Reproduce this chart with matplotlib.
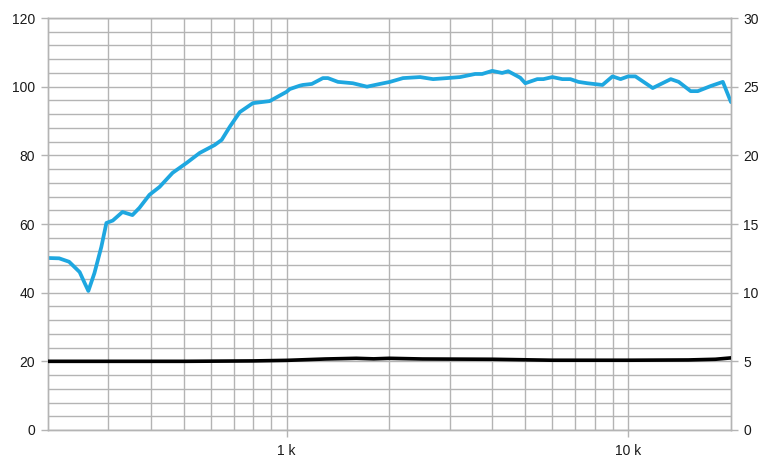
import matplotlib
matplotlib.use("Agg")
import matplotlib.pyplot as plt
from matplotlib.ticker import FixedLocator, NullFormatter

plt.rcParams['font.family'] = ['Liberation Sans', 'DejaVu Sans']

# 주파수 응답 (왼쪽 축, 0-120)
spl_freq = [200, 216, 231, 248, 256, 263, 274, 287, 297, 310, 331, 354, 371, 397,
            425, 464, 510, 557, 616, 646, 682, 730, 797, 893, 1000, 1022, 1094,
            1116, 1186, 1278, 1322, 1414, 1564, 1720, 1877, 2009, 2193, 2460,
            2685, 2951, 3221, 3565, 3738, 4000, 4277, 4457, 4833, 5000, 5420,
            5649, 6000, 6417, 6775, 7150, 7600, 8410, 9000, 9500, 10000, 10500,
            11800, 13330, 14060, 15240, 15990, 17460, 18930, 20000]
spl_val = [50.1, 50.0, 49.0, 46.0, 43.0, 40.5, 45.7, 53.3, 60.3, 61.0, 63.5, 62.6,
           64.7, 68.5, 70.8, 74.9, 77.8, 80.7, 83.0, 84.5, 88.3, 92.6, 95.2, 95.8,
           98.5, 99.3, 100.3, 100.5, 100.8, 102.5, 102.5, 101.4, 101.0, 100.0,
           100.8, 101.4, 102.5, 102.8, 102.2, 102.5, 102.8, 103.7, 103.7, 104.6,
           104.0, 104.5, 102.6, 101.0, 102.2, 102.2, 102.8, 102.2, 102.2, 101.4,
           101.0, 100.5, 103.0, 102.2, 103.0, 103.0, 99.6, 102.2, 101.4, 98.7,
           98.7, 100.2, 101.4, 95.5]

# 임피던스 (오른쪽 축, 0-30)
imp_freq = [200, 500, 800, 1000, 1300, 1600, 1800, 2000, 2500, 4000, 6000,
            10000, 15000, 18000, 20000]
imp_val = [5.0, 5.0, 5.03, 5.07, 5.17, 5.22, 5.18, 5.22, 5.17, 5.15, 5.08,
           5.08, 5.1, 5.15, 5.25]

left_ticks = [0, 20, 40, 60, 80, 100, 120]
right_ticks = [0, 5, 10, 15, 20, 25, 30]
x_ticks = [1000, 10000]
x_labels = ['1 k', '10 k']

grid_c = '#b4b4b4'

fig = plt.figure(figsize=(7.76, 4.62), dpi=100)
ax = fig.add_axes([0.0615, 0.0693, 0.8805, 0.8917])
ax2 = ax.twinx()

ax.set_xscale('log')
ax.set_xlim(200, 20000)
ax.set_ylim(0, 120)
ax2.set_ylim(0, 30)

# 그리드
ax.xaxis.set_major_locator(FixedLocator(x_ticks))
ax.xaxis.set_minor_locator(FixedLocator(
    [300, 400, 500, 600, 700, 800, 900, 2000, 3000, 4000, 5000, 6000, 7000,
     8000, 9000]))
ax.xaxis.set_minor_formatter(NullFormatter())
ax.set_xticklabels(x_labels)
ax.yaxis.set_major_locator(FixedLocator(left_ticks))
ax.yaxis.set_minor_locator(FixedLocator(range(0, 121, 4)))
ax2.yaxis.set_major_locator(FixedLocator(right_ticks))
ax2.yaxis.set_minor_locator(FixedLocator([]))

ax.grid(True, which='both', color=grid_c, linewidth=1.0)
ax.set_axisbelow(True)

for a in (ax, ax2):
    for s in a.spines.values():
        s.set_color(grid_c)
        s.set_linewidth(1.0)

ax.tick_params(axis='both', which='major', length=5, width=1, color=grid_c,
               labelsize=10, labelcolor='#1a1a1a', pad=4)
ax.tick_params(axis='both', which='minor', length=0)
ax2.tick_params(axis='y', which='major', length=5, width=1, color=grid_c,
                labelsize=10, labelcolor='#1a1a1a', pad=4)
ax.tick_params(axis='x', pad=5)

ax.plot(spl_freq, spl_val, color='#1ea7e0', linewidth=2.7,
        solid_joinstyle='round', solid_capstyle='round', zorder=3)
ax2.plot(imp_freq, imp_val, color='#000000', linewidth=2.6,
         solid_joinstyle='round', zorder=3)

fig.savefig('out.png', dpi=100)
